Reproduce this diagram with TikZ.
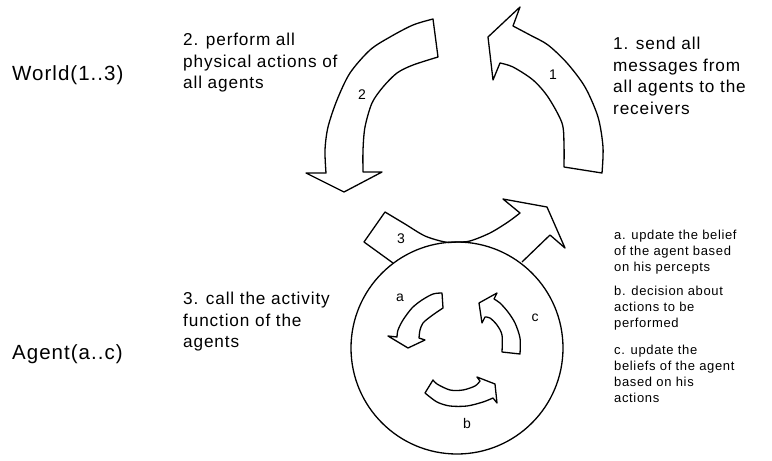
\documentclass[tikz,border=0pt]{standalone}
\usepackage{fontspec}
\setmainfont{Liberation Sans}[LetterSpace=5]
\usepackage{amsmath,amssymb}

\begin{document}
\begin{tikzpicture}[x=1pt, y=-1pt, line join=round,
                    block arrow/.style={draw, line width=1.3pt, fill=white},
                    big text/.style={anchor=west, inner sep=0pt, align=left, font=\fontsize{20.5}{24}\selectfont},
                    step text/.style={anchor=west, inner sep=0pt, align=left, font=\fontsize{17.2}{21.5}\selectfont},
                    note text/.style={anchor=west, inner sep=0pt, align=left, font=\fontsize{13}{15.8}\selectfont},
                    num node/.style={inner sep=0pt, font=\fontsize{14}{14}\selectfont}]

  \useasboundingbox (0,0) rectangle (772,461);

  % world level
  \node[big text] (world) at (12,75) {World(1..3)};
  \node[step text] (perform) at (183,63) {2. perform all\\physical actions of\\all agents};
  \node[step text] (send) at (613,76) {1. send all\\messages from\\all agents to the\\receivers};

  \draw[block arrow] (602,173) -- plot[smooth] coordinates {(602,173) (603,147) (598,117) (585,87) (567,63) (548,45) (530,35) (513,26)}
      -- (520,7) -- (488,37) -- (493,80) -- (500,63)
      -- plot[smooth] coordinates {(500,63) (513,67) (533,80) (548,97) (562,123) (564,145) (564,167)} -- cycle;
  \node[num node] (one) at (553,75) {1};

  \draw[block arrow] (433,19) -- (438,57)
      -- plot[smooth] coordinates {(438,57) (413,65) (397,73) (383,87) (372,103) (365,127) (363,150) (363,172)}
      -- (382,172) -- (344,192) -- (306,173) -- (326,173)
      -- plot[smooth] coordinates {(326,173) (325,150) (328,127) (337,100) (350,73) (370,50) (390,37) (413,25) (433,19)} -- cycle;
  \node[num node] (two) at (362,95) {2};

  % agent level
  \node[big text] (agentlbl) at (12,354) {Agent(a..c)};
  \node[step text] (activity) at (183,322) {3. call the activity\\function of the\\agents};

  \draw[block arrow] (393,263) -- (364,242) -- (385,212)
      -- plot[smooth] coordinates {(385,212) (405,224) (425,236) (445,242) (457,242) (470,241) (490,233) (508,222) (520,213)}
      -- (503,199) -- (547,207) -- (565,248) -- (550,235) -- (522,262);
  \node[num node] (three) at (401,239) {3};

  \node[circle, draw, line width=1.3pt, minimum size=212pt, inner sep=0pt] (agent) at (457,348) {};

  \draw[block arrow] (442,293)
      -- plot[smooth] coordinates {(442,293) (433,294) (422,300) (412,308) (403,320) (398,330) (397,337)}
      -- (388,336) -- (408,348) -- (425,340) -- (419,338)
      -- plot[smooth] coordinates {(419,338) (420,330) (423,323) (430,317) (437,312) (443,308)} -- cycle;
  \node[num node] (a) at (400,298) {a};

  \draw[block arrow] (497,293) -- (479,303) -- (482,323) -- (485,317)
      -- plot[smooth] coordinates {(485,317) (490,318) (497,325) (502,335) (502,352)}
      -- (520,354)
      -- plot[smooth] coordinates {(520,354) (520,338) (515,323) (508,312) (500,303) (494,299)} -- cycle;
  \node[num node] (c) at (535,318) {c};

  \draw[block arrow] (433,380) -- (425,393)
      -- plot[smooth] coordinates {(425,393) (437,402) (450,406) (467,406) (483,402) (493,398)}
      -- (497,403) -- (495,384) -- (477,377) -- (480,381)
      -- plot[smooth] coordinates {(480,381) (475,386) (463,390) (450,390) (437,384) (433,380)} -- cycle;
  \node[num node] (b) at (467,423) {b};

  % notes
  \node[note text] (notea) at (614,252) {a. update the belief\\of the agent based\\on his percepts};
  \node[note text] (noteb) at (614,308) {b. decision about\\actions to be\\performed};
  \node[note text] (notec) at (614,374) {c. update the\\beliefs of the agent\\based on his\\actions};

\end{tikzpicture}
\end{document}
